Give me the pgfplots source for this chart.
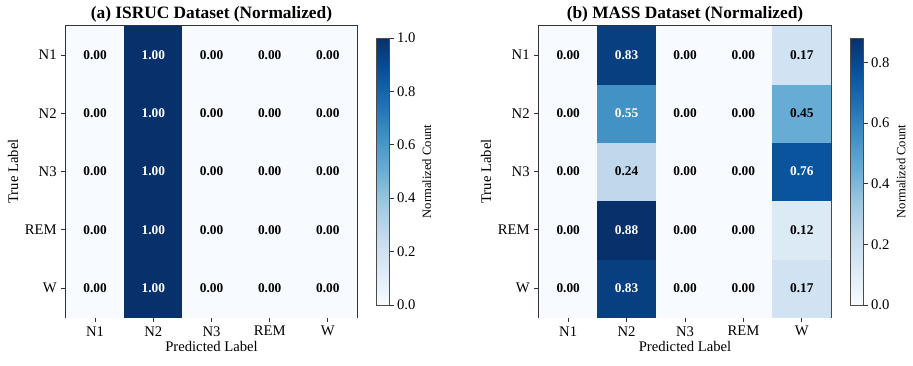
\documentclass[border=0pt]{standalone}
\usepackage{pgfplots}
\pgfplotsset{compat=1.18}
\usepackage{fontspec}
\setmainfont{Liberation Serif}

\pgfplotsset{
  colormap={Blues}{rgb255=(247,251,255) rgb255=(222,235,247) rgb255=(198,219,239)
    rgb255=(158,202,225) rgb255=(107,174,214) rgb255=(66,146,198)
    rgb255=(33,113,181) rgb255=(8,81,156) rgb255=(8,48,107)},
  cmaxis/.style={
    scale only axis, width=218.25pt, height=218.25pt,
    xmin=-0.5, xmax=4.5, ymin=-0.5, ymax=4.5,
    xtick={0,...,4}, ytick={0,...,4},
    xticklabels={N1,N2,N3,REM,W}, yticklabels={W,REM,N3,N2,N1},
    tick align=outside, xtick pos=bottom, ytick pos=left,
    major tick length=3.5pt,
    tick style={black!80, line width=0.6pt},
    axis line style={black!80, line width=0.8pt},
    ticklabel style={font=\fontsize{11}{13}\selectfont},
    label style={font=\fontsize{11}{13}\selectfont},
    title style={font=\fontsize{13}{15}\selectfont\bfseries, yshift=-7pt},
    xlabel={Predicted Label}, ylabel={True Label},
    xlabel style={yshift=3pt}, ylabel style={yshift=-2pt},
    colormap name=Blues,
    colorbar,
  },
  cbarstyle/.style={
    at={(parent axis.east)}, anchor=west, xshift=5.75pt,
    scale only axis, width=9.75pt, height=200.25pt,
    ytick pos=right, tick align=outside, major tick length=3.5pt,
    tick style={black!80, line width=0.6pt},
    axis line style={black!70, line width=0.6pt},
    yticklabel style={font=\fontsize{11}{13}\selectfont, xshift=-1pt,
      /pgf/number format/.cd, fixed, fixed zerofill, precision=1, assume math mode=true},
    ylabel={Normalized Count},
    ylabel style={font=\fontsize{9.5}{11}\selectfont, anchor=center},
  },
  celltext/.style={draw=none, mark=none, nodes near coords, point meta=explicit symbolic,
    every node near coord/.append style={anchor=center, font=\fontsize{10}{12}\selectfont\bfseries, text=#1}},
}

\begin{document}
\begin{tikzpicture}
\path[use as bounding box] (0,0) rectangle (684.75pt,273.75pt);

% (a) ISRUC
\begin{axis}[cmaxis, at={(49.5pt,36pt)}, anchor=south west,
  title={(a) ISRUC Dataset (Normalized)},
  point meta min=0, point meta max=1,
  colorbar style={cbarstyle, ytick={0,0.2,0.4,0.6,0.8,1.0},
    ylabel style={at={(axis description cs:3.9,0.5)}}}]
\addplot[matrix plot*, mesh/cols=5, point meta=explicit] table[meta=c] {
x y c
0 0 0
1 0 1
2 0 0
3 0 0
4 0 0
0 1 0
1 1 1
2 1 0
3 1 0
4 1 0
0 2 0
1 2 1
2 2 0
3 2 0
4 2 0
0 3 0
1 3 1
2 3 0
3 3 0
4 3 0
0 4 0
1 4 1
2 4 0
3 4 0
4 4 0
};
\addplot[celltext=black] table[meta=l] {
x y l
0 0 0.00
2 0 0.00
3 0 0.00
4 0 0.00
0 1 0.00
2 1 0.00
3 1 0.00
4 1 0.00
0 2 0.00
2 2 0.00
3 2 0.00
4 2 0.00
0 3 0.00
2 3 0.00
3 3 0.00
4 3 0.00
0 4 0.00
2 4 0.00
3 4 0.00
4 4 0.00
};
\addplot[celltext=white] table[meta=l] {
x y l
1 0 1.00
1 1 1.00
1 2 1.00
1 3 1.00
1 4 1.00
};
\end{axis}

% (b) MASS
\begin{axis}[cmaxis, at={(404.25pt,36pt)}, anchor=south west, width=219pt,
  title={(b) MASS Dataset (Normalized)},
  point meta min=0, point meta max=0.88,
  colorbar style={cbarstyle, ytick={0,0.2,0.4,0.6,0.8},
    ylabel style={at={(axis description cs:3.92,0.5)}}}]
\addplot[matrix plot*, mesh/cols=5, point meta=explicit] table[meta=c] {
x y c
0 0 0
1 0 0.83
2 0 0
3 0 0
4 0 0.17
0 1 0
1 1 0.88
2 1 0
3 1 0
4 1 0.12
0 2 0
1 2 0.24
2 2 0
3 2 0
4 2 0.76
0 3 0
1 3 0.55
2 3 0
3 3 0
4 3 0.45
0 4 0
1 4 0.83
2 4 0
3 4 0
4 4 0.17
};
\addplot[celltext=black] table[meta=l] {
x y l
0 0 0.00
2 0 0.00
3 0 0.00
4 0 0.17
0 1 0.00
2 1 0.00
3 1 0.00
4 1 0.12
0 2 0.00
1 2 0.24
2 2 0.00
3 2 0.00
0 3 0.00
2 3 0.00
3 3 0.00
4 3 0.45
0 4 0.00
2 4 0.00
3 4 0.00
4 4 0.17
};
\addplot[celltext=white] table[meta=l] {
x y l
1 0 0.83
1 1 0.88
4 2 0.76
1 3 0.55
1 4 0.83
};
\end{axis}
\end{tikzpicture}
\end{document}
